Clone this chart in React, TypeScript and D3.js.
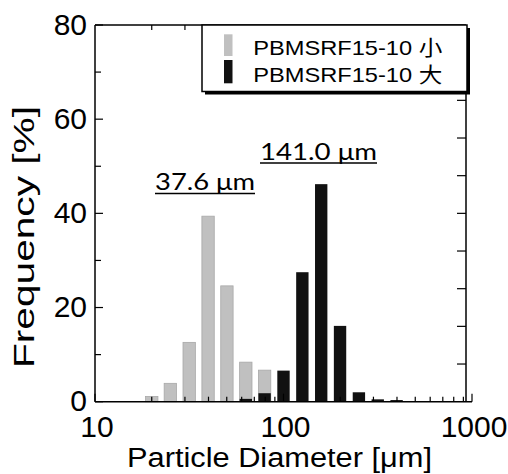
import React from "react";
import * as d3 from "d3";

// ---- data ----
const binCenters = [20, 25.1, 31.6, 39.8, 50.1, 63.1, 79.4, 100, 125.9, 158.5, 199.5, 251.2, 316.2, 398.1];
const smallFreq = [1.1, 3.9, 12.6, 39.4, 24.6, 8.4, 6.7, 0, 0, 0, 0, 0, 0, 0];
const largeFreq = [0, 0, 0, 0, 0, 0.6, 1.8, 6.6, 27.5, 46.2, 16.1, 2.0, 0.5, 0.35];
const seriesNames = ["PBMSRF15-10 小", "PBMSRF15-10 大"];
const yTicks = [0, 20, 40, 60, 80];
const yMinorTicks = [10, 30, 50, 70];
const xTicks = [10, 100, 1000];
const annotations = [
  { label: "37.6 μm", x0: 155, x1: 255, y: 190 },
  { label: "141.0 μm", x0: 260, x1: 377, y: 159.5 },
];

const W = 508;
const H = 474;
const left = 95;
const right = 472;
const frameRight = 466;
const top = 25;
const bottom = 401.7;

export default function App() {
  const x = d3.scaleLog().domain([10, 1000]).range([left, right]);
  const y = d3.scaleLinear().domain([0, 80]).range([bottom, top]);
  const halfW = Math.pow(10, 0.0328);
  const minorX: number[] = [];
  for (const dec of [10, 100]) for (let k = 2; k <= 9; k++) minorX.push(dec * k);
  const rightTicks = d3.range(1, 10).map((i) => bottom - (i * (bottom - top)) / 10);

  const gray = "#c0c0c0";
  const black = "#111111";
  const sans = "'Liberation Sans', Arial, 'Noto Sans CJK JP', sans-serif";

  return (
    <svg width={W} height={H} style={{ position: "absolute", left: 0, top: 0, background: "#fff" }}>
      {binCenters.map((c, i) =>
        smallFreq[i] > 0 ? (
          <rect
            key={"s" + i}
            x={x(c / halfW)}
            y={y(smallFreq[i])}
            width={x(c * halfW) - x(c / halfW)}
            height={y(0) - y(smallFreq[i])}
            fill={gray}
            stroke="#a8a8a8"
            strokeWidth={0.8}
          />
        ) : null
      )}
      {binCenters.map((c, i) =>
        largeFreq[i] > 0 ? (
          <rect
            key={"l" + i}
            x={x(c / halfW)}
            y={y(largeFreq[i])}
            width={x(c * halfW) - x(c / halfW)}
            height={y(0) - y(largeFreq[i])}
            fill={black}
          />
        ) : null
      )}

      <line x1={left} x2={left} y1={top} y2={bottom} stroke="#000" strokeWidth={1.5} />
      <line x1={left} x2={right} y1={bottom} y2={bottom} stroke="#000" strokeWidth={1.5} />
      <line x1={left} x2={frameRight} y1={top} y2={top} stroke="#000" strokeWidth={1.5} />
      <line x1={frameRight} x2={frameRight} y1={top} y2={bottom} stroke="#000" strokeWidth={1.5} />

      {yTicks.map((t) => (
        <line key={"yt" + t} x1={left} x2={left + 8} y1={y(t)} y2={y(t)} stroke="#000" strokeWidth={1.2} />
      ))}
      {yMinorTicks.map((t) => (
        <line key={"ym" + t} x1={left} x2={left + 6} y1={y(t)} y2={y(t)} stroke="#000" strokeWidth={1.2} />
      ))}
      {rightTicks.map((t, i) => (
        <line key={"rt" + i} x1={frameRight - 9} x2={frameRight} y1={t} y2={t} stroke="#000" strokeWidth={1.2} />
      ))}
      {minorX.map((t) => (
        <g key={"xm" + t}>
          <line x1={x(t)} x2={x(t)} y1={bottom} y2={bottom - 5} stroke="#000" strokeWidth={1.2} />
          <line x1={x(t)} x2={x(t)} y1={top} y2={top + 5} stroke="#000" strokeWidth={1.2} />
        </g>
      ))}
      {xTicks.map((t) => (
        <line key={"xt" + t} x1={x(t)} x2={x(t)} y1={bottom} y2={bottom - 8} stroke="#000" strokeWidth={1.2} />
      ))}

      {yTicks.map((t) => (
        <text key={"yl" + t} x={87} y={y(t) + 9.5} textAnchor="end" fontFamily={sans} fontSize={30} fill="#000">
          {t}
        </text>
      ))}
      {xTicks.map((t) => (
        <text key={"xl" + t} x={x(t) + 2} y={437} textAnchor="middle" fontFamily={sans} fontSize={30} fill="#000">
          {t}
        </text>
      ))}

      <text x={127} y={467} fontFamily={sans} fontSize={27} textLength={305} lengthAdjust="spacingAndGlyphs" fill="#000">
        Particle Diameter [μm]
      </text>
      <text
        transform="translate(34,368) rotate(-90)"
        x={0}
        y={0}
        fontFamily={sans}
        fontSize={29}
        textLength={262}
        lengthAdjust="spacingAndGlyphs"
        fill="#000"
      >
        Frequency [%]
      </text>

      {annotations.map((a) => (
        <g key={a.label}>
          <text
            x={a.x0}
            y={a.y}
            fontFamily="Lato, 'Open Sans', sans-serif"
            fontSize={23}
            textLength={a.x1 - a.x0}
            lengthAdjust="spacingAndGlyphs"
            fill="#000"
          >
            {a.label}
          </text>
          <line x1={a.x0} x2={a.x1} y1={a.y + 3.5} y2={a.y + 3.5} stroke="#000" strokeWidth={1.6} />
        </g>
      ))}

      <rect x={205} y={28} width={265} height={66.5} fill="#000" />
      <rect x={202} y={25} width={265} height={66.5} fill="#fff" stroke="#000" strokeWidth={1.5} />
      <rect x={224} y={34.3} width={8.5} height={21.7} fill={gray} />
      <rect x={224} y={60} width={8.5} height={23.3} fill={black} />
      <text x={253.3} y={55} fontFamily={sans} fontSize={21} textLength={189} lengthAdjust="spacingAndGlyphs" fill="#000">
        {seriesNames[0]}
      </text>
      <text x={253.3} y={81.7} fontFamily={sans} fontSize={21} textLength={189} lengthAdjust="spacingAndGlyphs" fill="#000">
        {seriesNames[1]}
      </text>
    </svg>
  );
}
